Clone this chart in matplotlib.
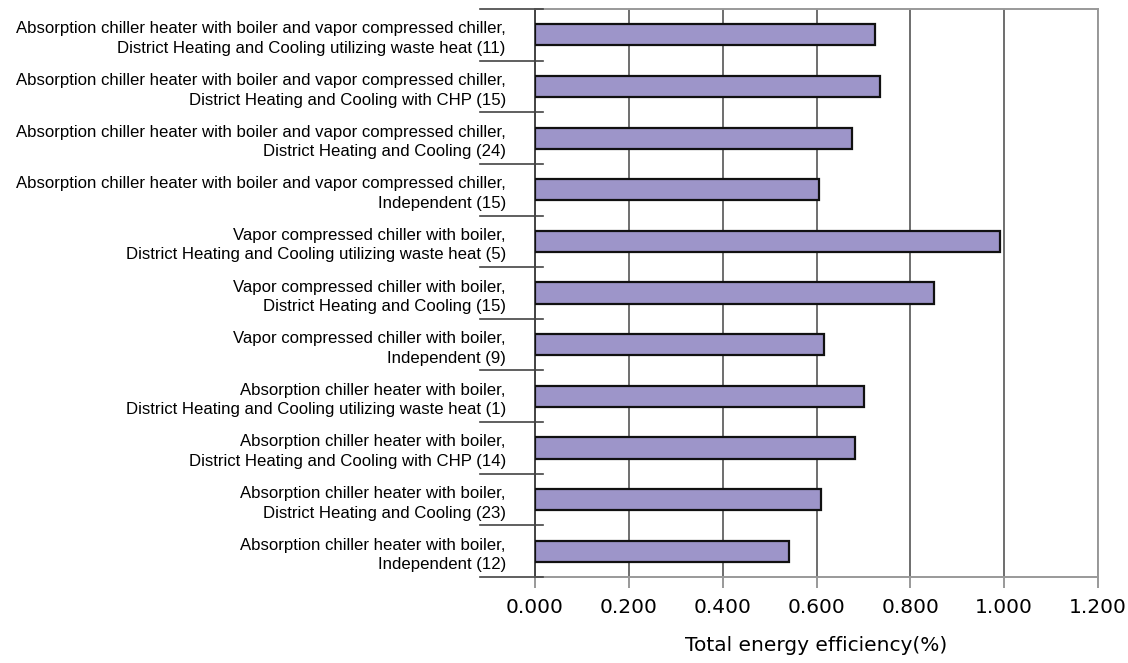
import numpy as np
import matplotlib
matplotlib.use("Agg")
import matplotlib.pyplot as plt
import matplotlib.transforms as mtransforms

# categories listed top to bottom, as in the chart
labels = [
    "Absorption chiller heater with boiler and vapor compressed chiller,\nDistrict Heating and Cooling utilizing waste heat (11)",
    "Absorption chiller heater with boiler and vapor compressed chiller,\nDistrict Heating and Cooling with CHP (15)",
    "Absorption chiller heater with boiler and vapor compressed chiller,\nDistrict Heating and Cooling (24)",
    "Absorption chiller heater with boiler and vapor compressed chiller,\nIndependent (15)",
    "Vapor compressed chiller with boiler,\nDistrict Heating and Cooling utilizing waste heat (5)",
    "Vapor compressed chiller with boiler,\nDistrict Heating and Cooling (15)",
    "Vapor compressed chiller with boiler,\nIndependent (9)",
    "Absorption chiller heater with boiler,\nDistrict Heating and Cooling utilizing waste heat (1)",
    "Absorption chiller heater with boiler,\nDistrict Heating and Cooling with CHP (14)",
    "Absorption chiller heater with boiler,\nDistrict Heating and Cooling (23)",
    "Absorption chiller heater with boiler,\nIndependent (12)",
]
efficiency = [0.725, 0.736, 0.675, 0.605, 0.992, 0.850, 0.616, 0.702, 0.681, 0.610, 0.541]
xticks = [0.0, 0.2, 0.4, 0.6, 0.8, 1.0, 1.2]

fig = plt.figure(figsize=(11.28, 6.63), dpi=100)
ax = fig.add_axes([0.4743, 0.1297, 0.4991, 0.8567])

y = np.arange(len(labels))
ax.barh(y, efficiency, height=0.41, color="#9d95c9", edgecolor="#111111",
        linewidth=1.6, zorder=3)

ax.set_xlim(0, 1.2)
ax.set_ylim(len(labels) - 0.5, -0.5)
ax.set_xticks(xticks)
ax.set_xticklabels(["%.3f" % v for v in xticks], fontsize=14.5, family="DejaVu Sans")
ax.set_yticks(y)
ax.set_yticklabels(labels, fontsize=12.1, family="Liberation Sans", linespacing=1.38)
ax.tick_params(axis="y", length=0, pad=21)
ax.tick_params(axis="x", length=8, width=1.2, color="#888888", pad=7)

ax.grid(axis="x", color="#555555", linewidth=1.2, zorder=0)
for s in ax.spines.values():
    s.set_color("#999999")
    s.set_linewidth(1.4)
ax.spines["left"].set_color("#444444")

# category separator ticks on the left axis
trans = mtransforms.blended_transform_factory(ax.transAxes, ax.transData)
bounds = np.arange(len(labels) + 1) - 0.5
for b in bounds:
    ax.plot([-0.097, 0.015], [b, b], transform=trans, color="#444444",
            linewidth=1.2, clip_on=False, zorder=4)

ax.set_xlabel("Total energy efficiency(%)", fontsize=14.5, family="DejaVu Sans", labelpad=14)

fig.savefig("out.png", dpi=100)
